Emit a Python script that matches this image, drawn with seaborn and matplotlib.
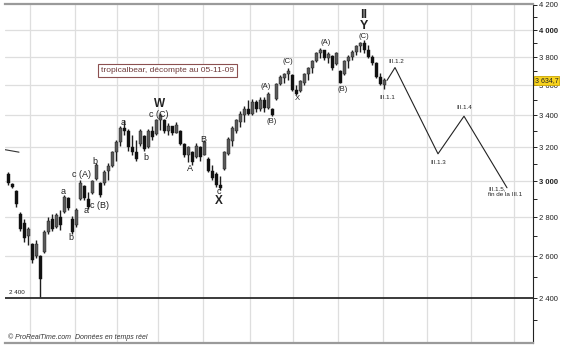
import matplotlib
matplotlib.use("Agg")
import matplotlib.pyplot as plt
import matplotlib.transforms as mtransforms
import numpy as np
import pandas as pd
import seaborn as sns

# bars (one bar ~ every 2 sessions)
opens = [3040, 2985, 2945, 2820, 2770, 2700, 2660, 2600, 2600, 2620,
         2720, 2790, 2750, 2800, 2830, 2905, 2790, 2760, 2900, 2970,
         2900, 2930, 3010, 2990, 2990, 3060, 3090, 3170, 3230, 3320,
         3300, 3200, 3170, 3220, 3270, 3200, 3300, 3280, 3370, 3370,
         3300, 3330, 3290, 3300, 3220, 3150, 3170, 3140, 3200, 3155,
         3130, 3060, 3040, 2975, 3070, 3160, 3240, 3300, 3360, 3400,
         3440, 3410, 3490, 3440, 3500, 3450, 3440, 3510, 3610, 3650,
         3680, 3670, 3570, 3560, 3620, 3680, 3720, 3770, 3830, 3850,
         3790, 3810, 3750, 3700, 3680, 3770, 3800, 3840, 3880, 3900,
         3850, 3800, 3755, 3660, 3600]
highs = [3050, 2990, 2950, 2830, 2790, 2750, 2665, 2680, 2605, 2735,
         2800, 2815, 2825, 2840, 2920, 2910, 2805, 2850, 3005, 2975,
         2940, 3005, 3105, 2995, 3065, 3105, 3180, 3245, 3335, 3370,
         3315, 3275, 3245, 3315, 3275, 3315, 3335, 3380, 3415, 3380,
         3350, 3335, 3355, 3305, 3225, 3210, 3180, 3225, 3210, 3245,
         3140, 3095, 3050, 3030, 3180, 3260, 3335, 3380, 3430, 3465,
         3500, 3510, 3500, 3520, 3525, 3555, 3450, 3620, 3670, 3690,
         3720, 3680, 3600, 3635, 3690, 3730, 3780, 3840, 3865, 3850,
         3840, 3815, 3840, 3705, 3780, 3815, 3850, 3890, 3910, 3925,
         3890, 3815, 3765, 3690, 3650]
lows = [2980, 2960, 2855, 2725, 2670, 2655, 2565, 2590, 2405, 2615,
        2710, 2725, 2745, 2735, 2825, 2840, 2710, 2750, 2895, 2895,
        2845, 2925, 3005, 2910, 2980, 3005, 3080, 3120, 3210, 3275,
        3180, 3150, 3120, 3210, 3180, 3195, 3245, 3275, 3305, 3290,
        3275, 3275, 3285, 3215, 3140, 3110, 3095, 3135, 3120, 3150,
        3050, 3005, 2965, 2950, 3065, 3150, 3210, 3290, 3325, 3355,
        3400, 3405, 3420, 3430, 3420, 3445, 3395, 3500, 3600, 3620,
        3635, 3565, 3535, 3555, 3600, 3635, 3690, 3765, 3795, 3780,
        3760, 3710, 3745, 3615, 3670, 3725, 3780, 3815, 3835, 3830,
        3790, 3745, 3650, 3600, 3575]
closes = [2990, 2965, 2870, 2740, 2690, 2740, 2580, 2660, 2490, 2720,
          2780, 2740, 2810, 2760, 2910, 2850, 2720, 2840, 2990, 2905,
          2855, 3000, 3095, 2920, 3055, 3090, 3170, 3230, 3320, 3300,
          3200, 3170, 3130, 3300, 3190, 3300, 3260, 3370, 3400, 3300,
          3330, 3290, 3340, 3220, 3150, 3200, 3110, 3210, 3140, 3235,
          3060, 3015, 2975, 2960, 3170, 3250, 3320, 3370, 3410, 3440,
          3410, 3490, 3440, 3500, 3450, 3540, 3400, 3610, 3660, 3680,
          3700, 3570, 3545, 3630, 3680, 3720, 3770, 3830, 3850, 3790,
          3820, 3720, 3830, 3620, 3770, 3800, 3840, 3880, 3900, 3850,
          3800, 3755, 3660, 3610, 3635]

# projected count III.1
proj_x = [94.75, 96.75, 107.5, 114, 124.75]
proj_y = [3635, 3725, 3160, 3395, 2962]

# short old trendline at the left edge
trend_x = [-0.75, 2.75]
trend_y = [3185, 3170]

month_ticks = [5.5, 16.75, 27.25, 37.5, 48.75, 60.5, 71.25, 82.5,
               93.75, 104.75, 115.75, 126.5]
y_major = [2400, 2600, 2800, 3000, 3200, 3400, 3600, 3800, 4000, 4200]
y_minor = [2300, 2500, 2700, 2900, 3100, 3300, 3500, 3700, 3900, 4100]

# wave labels
small_labels = [("a", 13.75, 2940), ("b", 15.75, 2695), ("c (A)", 18.5, 3040),
                ("a", 19.5, 2838), ("b", 21.75, 3117), ("c (B)", 23.0, 2865),
                ("a", 28.75, 3355), ("b", 34.5, 3135), ("c (C)", 37.75, 3405),
                ("A", 45.5, 3075), ("B", 48.75, 3250), ("c", 52.75, 2940)]
paren_labels = [("(A)", 64.5, 3593), ("(B)", 66.0, 3360), ("(C)", 70.0, 3770),
                ("X", 72.25, 3510), ("(A)", 79.5, 3910), ("(B)", 83.75, 3575),
                ("(C)", 89.0, 3955)]
big_labels = [("W", 38.0, 3478, 8.5), ("X", 52.75, 2890, 8.5),
              ("Y", 89.0, 4030, 9), ("II", 89.0, 4120, 9)]
count_labels = [("III.1.1", 94.75, 3520), ("III.1.2", 97.0, 3765),
                ("III.1.3", 107.5, 3110), ("III.1.4", 114.0, 3450)]

df = pd.DataFrame({"open": opens, "high": highs, "low": lows, "close": closes})
df["i"] = np.arange(len(df))
df["up"] = df["close"] >= df["open"]

sns.set_style("white")
plt.rcParams["font.family"] = ["Liberation Sans", "DejaVu Sans"]

fig = plt.figure(figsize=(5.61, 3.61), dpi=100)
ax = fig.add_axes([5 / 561, 18 / 361, 528 / 561, 339 / 361])
ax.set_yscale("log")

# grid
for m in month_ticks:
    ax.axvline(m, color="#dedede", lw=0.9, zorder=0)
for v in y_major[1:-1]:
    ax.axhline(v, color="#dedede", lw=0.9, zorder=0)
ax.axhline(2400, color="#2b2b2b", lw=1.3, zorder=1)

# candles
ax.vlines(df["i"], df["low"], df["high"], color="#1e1e1e", lw=1.0, zorder=2)
body_lo = df[["open", "close"]].min(axis=1)
body_hi = df[["open", "close"]].max(axis=1)
cols = np.where(df["up"], "#5a5a5a", "#111111")
ax.bar(df["i"], body_hi - body_lo, bottom=body_lo, width=0.75, color=cols,
       edgecolor="#151515", linewidth=0.3, zorder=3)

sns.lineplot(x=proj_x, y=proj_y, color="#222222", lw=0.8, ax=ax, zorder=4)
sns.lineplot(x=trend_x, y=trend_y, color="#333333", lw=0.8, ax=ax, zorder=4)

for t, x, y in small_labels:
    ax.text(x, y, t, fontsize=6.5, ha="center", va="center", color="#222222")
for t, x, y in paren_labels:
    ax.text(x, y, t, fontsize=5.5, ha="center", va="center", color="#222222")
for t, x, y, s in big_labels:
    ax.text(x, y, t, fontsize=s, ha="center", va="center", color="#222222",
            fontweight="bold")
for t, x, y in count_labels:
    ax.text(x, y, t, fontsize=4.5, ha="center", va="center", color="#222222")
ax.text(120.0, 2940, "III.1.5,\nfin de la III.1", fontsize=4.5, ha="left",
        va="center", color="#222222", linespacing=1.0)

ax.text(0.307, 0.804, "tropicalbear, décompte au 05-11-09",
        transform=ax.transAxes, ha="center", va="center", fontsize=6,
        color="#6e3a3a",
        bbox=dict(boxstyle="square,pad=0.35", fc="white", ec="#8c5050", lw=0.8))
ax.text(0.3, 2425, "2 400", fontsize=4.5, ha="left", va="center", color="#222222")
ax.text(0.005, 0.018, "© ProRealTime.com  Données en temps réel",
        transform=ax.transAxes, fontsize=5, style="italic", ha="left",
        va="center", color="#333333")

blend = mtransforms.blended_transform_factory(ax.transAxes, ax.transData)
ax.text(1.003, closes[-1], "3 634,7", transform=blend, fontsize=5, ha="left",
        va="center", color="#222222", clip_on=False,
        bbox=dict(boxstyle="square,pad=0.15", fc="#f7d21e", ec="#c9a400", lw=0.6))

# axes cosmetics
ax.set_xlim(-0.75, 131.25)
ax.set_ylim(2203, 4205)
ax.yaxis.tick_right()
ax.set_yticks(y_major)
ax.set_yticks(y_minor, minor=True)
ax.set_yticklabels([f"{v // 1000} {v % 1000:03d}" for v in y_major])
ax.yaxis.set_minor_formatter(matplotlib.ticker.NullFormatter())
for lab, v in zip(ax.get_yticklabels(), y_major):
    lab.set_fontsize(5.5)
    if v % 1000 == 0:
        lab.set_fontweight("bold")
ax.tick_params(axis="y", which="both", direction="out", length=3, width=0.7,
               pad=1.5, colors="#222222", right=True, left=False)
ax.set_xticks(month_ticks)
ax.set_xticklabels([])
ax.tick_params(axis="x", direction="out", length=3, width=1, colors="#888888")

ax.spines["left"].set_visible(False)
ax.spines["right"].set_color("#222222")
ax.spines["right"].set_linewidth(0.8)
ax.spines["top"].set_color("#9a9a9a")
ax.spines["top"].set_linewidth(1.6)
ax.spines["bottom"].set_color("#9a9a9a")
ax.spines["bottom"].set_linewidth(1.6)
ax.set_xlabel("")
ax.set_ylabel("")

fig.savefig("out.png", dpi=100)
